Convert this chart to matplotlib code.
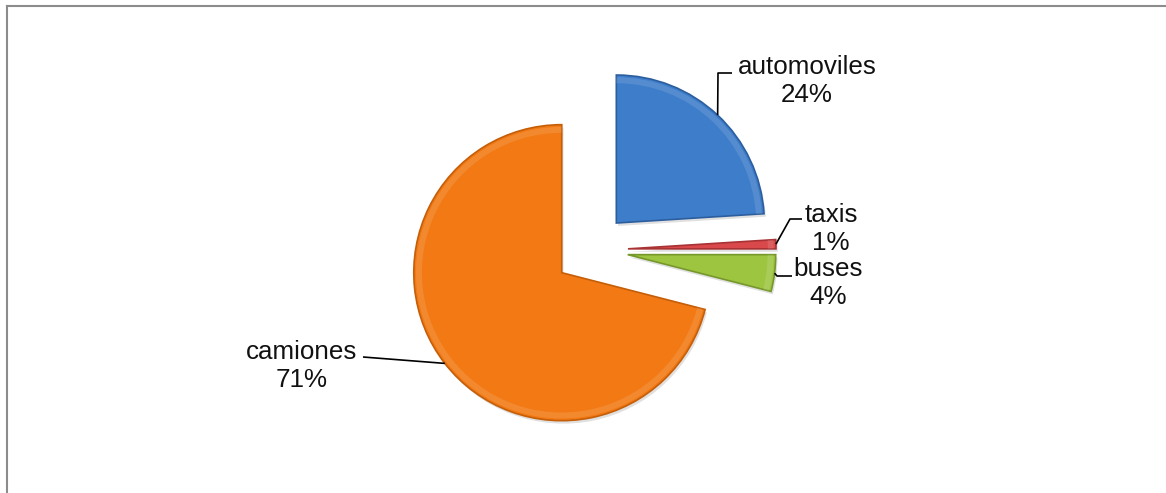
import numpy as np
import matplotlib.pyplot as plt
from matplotlib.patches import Wedge

# vehiculos por tipo (porcentaje)
categorias = ['automoviles', 'taxis', 'buses', 'camiones']
porcentajes = [24, 1, 4, 71]
colores = ['#3E7DCA', '#D9484A', '#9DC540', '#F27913']
bordes = ['#2C5E9E', '#A83234', '#76982A', '#C45E08']

W, H = 1166, 493
R_PX = 148.0          # pie radius in pixels
CX, CY = 591.0, 250.0  # pie centre in pixels (from top)


def px(x, y):
    # pixel position -> data units of the pie axes
    return (x - CX) / R_PX, (CY - y) / R_PX


plt.rcParams['font.family'] = ['Liberation Sans', 'DejaVu Sans']

fig = plt.figure(figsize=(W / 100, H / 100), dpi=100)
ax = fig.add_axes([0, 0, 1, 1])

wedges, _ = ax.pie(porcentajes, colors=colores, startangle=90, counterclock=False,
                   explode=[0.25] * len(porcentajes), radius=1.0,
                   wedgeprops=dict(linewidth=1.2, zorder=3))
for w, ec in zip(wedges, bordes):
    w.set_edgecolor(ec)
    # soft drop shadow under each slice
    sh = Wedge((w.center[0] + 0.012, w.center[1] - 0.02), w.r, w.theta1, w.theta2,
               facecolor='#000000', alpha=0.12, lw=0, zorder=2)
    ax.add_patch(sh)
    # lighter bevel just inside the rim
    bev = Wedge(w.center, w.r * 0.985, w.theta1, w.theta2, width=0.04,
                facecolor='white', alpha=0.12, lw=0, zorder=4)
    ax.add_patch(bev)

ax.set_xlim((0 - CX) / R_PX, (W - CX) / R_PX)
ax.set_ylim((CY - H) / R_PX, CY / R_PX)
ax.set_aspect('auto')
ax.axis('off')

# label text position and leader elbow / end, in pixels
texto_pos = [(807, 81), (831, 229), (828, 283), (302, 366)]
codos = [[(718, 73), (732, 73)],
         [(790, 219), (802, 219)],
         [(777, 276), (792, 276)],
         [(363, 357)]]

for w, cat, val, tp, codo in zip(wedges, categorias, porcentajes, texto_pos, codos):
    ang = np.deg2rad((w.theta1 + w.theta2) / 2)
    x0 = w.center[0] + w.r * np.cos(ang)
    y0 = w.center[1] + w.r * np.sin(ang)
    xs = [x0] + [px(*c)[0] for c in codo]
    ys = [y0] + [px(*c)[1] for c in codo]
    ax.plot(xs, ys, color='black', lw=1.2, solid_capstyle='butt', zorder=5)
    tx, ty = px(*tp)
    ax.text(tx, ty, f'{cat}\n{val}%', ha='center', va='center',
            multialignment='center', fontsize=18.7, linespacing=1.25, color='#111111')

# chart frame (left and top edges visible)
fig.add_artist(plt.Line2D([6.5 / W, 6.5 / W], [0, 1 - 5.5 / H], transform=fig.transFigure,
                          color='#8C8C8C', lw=1.5))
fig.add_artist(plt.Line2D([6.5 / W, 1], [1 - 5.5 / H, 1 - 5.5 / H], transform=fig.transFigure,
                          color='#8C8C8C', lw=1.5))

fig.savefig('out.png', dpi=100, facecolor='white')
